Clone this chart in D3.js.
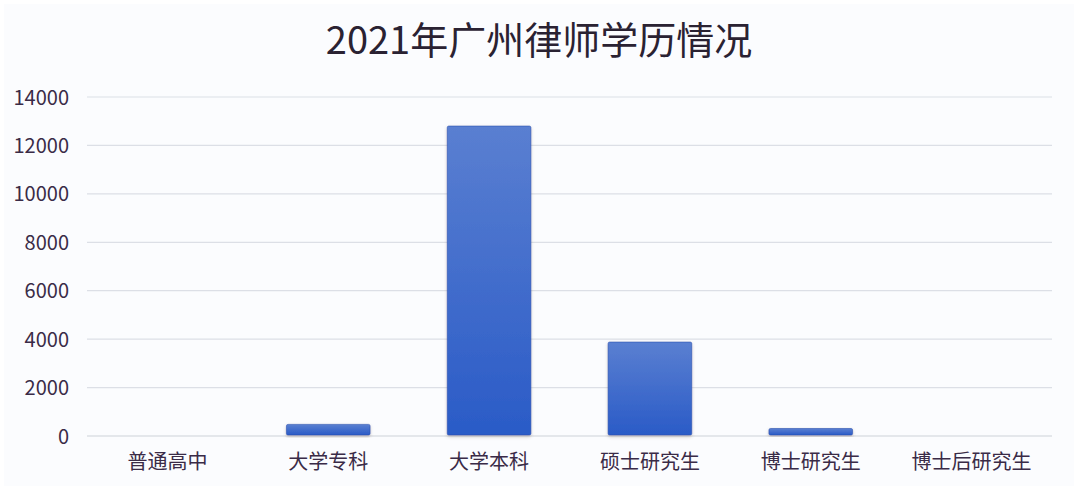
<!DOCTYPE html>
<html>
<head>
<meta charset="utf-8">
<script src="https://cdn.jsdelivr.net/npm/d3@7"></script>
<style>
	html, body { margin: 0; padding: 0; background: #ffffff; }
	svg { display: block; font-family: "Noto Sans CJK SC", "Noto Sans", sans-serif; }
</style>
</head>
<body>
<div id="chart"></div>
<script>
var title = "2021年广州律师学历情况";
var categories = ["普通高中", "大学专科", "大学本科", "硕士研究生", "博士研究生", "博士后研究生"];
var values = [3, 480, 12800, 3880, 310, 6];
var yTicks = [0, 2000, 4000, 6000, 8000, 10000, 12000, 14000];

function drawChart() {
	var width = 1078, height = 490;
	var margin = {top: 97, right: 26, bottom: 54, left: 87};
	var fontFamily = "'Noto Sans CJK SC', 'Noto Sans', sans-serif";

	var svg = d3.select("#chart").append("svg")
		.attr("width", width)
		.attr("height", height);

	var defs = svg.append("defs");
	var grad = defs.append("linearGradient")
		.attr("id", "barGrad")
		.attr("x1", 0).attr("y1", 0).attr("x2", 0).attr("y2", 1);
	grad.append("stop").attr("offset", "0%").attr("stop-color", "#5a7fd1");
	grad.append("stop").attr("offset", "100%").attr("stop-color", "#2a5bc7");

	var shadow = defs.append("filter").attr("id", "barShadow")
		.attr("x", "-20%").attr("y", "-20%").attr("width", "140%").attr("height", "140%");
	shadow.append("feDropShadow")
		.attr("dx", 0).attr("dy", 1.5)
		.attr("stdDeviation", 1.8)
		.attr("flood-color", "#6b5a50")
		.attr("flood-opacity", 0.35);

	// background panel
	svg.append("rect")
		.attr("x", 4).attr("y", 4)
		.attr("width", width - 8).attr("height", height - 8)
		.attr("fill", "#fbfcfe");

	var x = d3.scaleBand()
		.domain(categories)
		.range([margin.left, width - margin.right])
		.paddingInner(0.48)
		.paddingOuter(0.24);

	var y = d3.scaleLinear()
		.domain([0, 14000])
		.range([height - margin.bottom, margin.top]);

	// grid lines
	svg.append("g")
		.selectAll("line")
		.data(yTicks)
		.enter().append("line")
		.attr("x1", margin.left)
		.attr("x2", width - margin.right)
		.attr("y1", function (d) { return y(d); })
		.attr("y2", function (d) { return y(d); })
		.attr("stroke", function (d) { return d === 0 ? "#cdd1d8" : "#dcdfe6"; })
		.attr("stroke-width", 1.2);

	// y axis labels
	var yAxis = d3.axisLeft(y).tickValues(yTicks).tickFormat(d3.format("d")).tickSize(0).tickPadding(0);
	var gy = svg.append("g")
		.attr("transform", "translate(" + (margin.left - 18) + ",0)")
		.call(yAxis)
		.attr("font-family", fontFamily);
	gy.select(".domain").remove();
	gy.selectAll("text")
		.attr("fill", "#3a2b47")
		.style("font-size", "20px")
		.attr("dy", "0.35em");

	// x axis labels
	var xAxis = d3.axisBottom(x).tickSize(0).tickPadding(0);
	var gx = svg.append("g")
		.attr("transform", "translate(0," + (height - margin.bottom + 19) + ")")
		.call(xAxis)
		.attr("font-family", fontFamily);
	gx.select(".domain").remove();
	gx.selectAll("text")
		.attr("fill", "#3a2b47")
		.style("font-size", "20px")
		.attr("dy", "0.71em");

	// bars
	svg.append("g")
		.selectAll("rect")
		.data(values)
		.enter().append("rect")
		.attr("x", function (d, i) { return x(categories[i]); })
		.attr("y", function (d) { return y(d); })
		.attr("width", x.bandwidth())
		.attr("height", function (d) { return y(0) - y(d) - 1; })
		.attr("rx", 1.5)
		.attr("fill", "url(#barGrad)")
		.attr("stroke", "#2a53b0")
		.attr("stroke-width", 0.6)
		.attr("filter", "url(#barShadow)")
		.style("display", function (d) { return d < 50 ? "none" : null; });

	// title
	svg.append("text")
		.attr("x", width / 2)
		.attr("y", 54)
		.attr("text-anchor", "middle")
		.attr("fill", "#2a2232")
		.style("font-size", "38px")
		.text(title);
}

drawChart();
</script>
</body>
</html>
